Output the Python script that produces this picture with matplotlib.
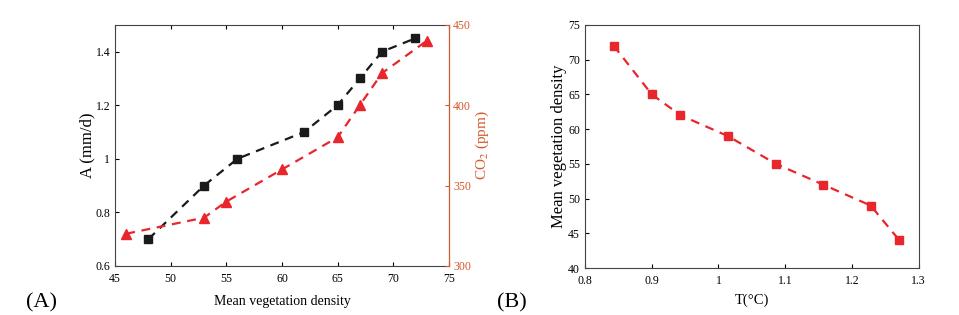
import matplotlib
matplotlib.use("Agg")
import matplotlib.pyplot as plt

plt.rcParams['font.family'] = ['Liberation Serif', 'DejaVu Serif']
plt.rcParams['mathtext.fontset'] = 'stix'

# panel A data
veg_a = [48, 53, 56, 62, 65, 67, 69, 72]
a_vals = [0.70, 0.90, 1.00, 1.10, 1.20, 1.30, 1.40, 1.45]
veg_co2 = [46, 53, 55, 60, 65, 67, 69, 73]
co2_vals = [320, 330, 340, 360, 380, 400, 420, 440]

# panel B data
temp = [0.843, 0.900, 0.943, 1.014, 1.086, 1.157, 1.228, 1.271]
veg_b = [72, 65, 62, 59, 55, 52, 49, 44]

red = '#e8262b'
orange = '#d4582a'
spine_c = '#444444'

fig = plt.figure(figsize=(9.59, 3.15), dpi=100)

# ---- panel A
ax1 = fig.add_axes([0.120, 0.156, 0.348, 0.765])
ax1.plot(veg_a, a_vals, ls='--', color='#1a1a1a', lw=1.6, dashes=(4, 3),
         marker='s', ms=5.5, zorder=3)
ax1.set_xlim(45, 75)
ax1.set_ylim(0.6, 1.5)
ax1.set_xticks([45, 50, 55, 60, 65, 70, 75])
ax1.set_yticks([0.6, 0.8, 1.0, 1.2, 1.4])
ax1.set_yticklabels(['0.6', '0.8', '1', '1.2', '1.4'])
ax1.set_xlabel('Mean vegetation density', fontsize=10, labelpad=7)
ax1.set_ylabel('A (mm/d)', fontsize=12, labelpad=0)
ax1.tick_params(direction='in', length=3, labelsize=8.5, top=True)
ax1.tick_params(axis='x', pad=5)
for s in ax1.spines.values():
    s.set_color(spine_c)

ax2 = ax1.twinx()
ax2.plot(veg_co2, co2_vals, ls='--', color=red, lw=1.6, dashes=(4, 3),
         marker='^', ms=7.5, zorder=3)
ax2.set_ylim(300, 450)
ax2.set_yticks([300, 350, 400, 450])
ax2.set_ylabel('CO$_2$ (ppm)', fontsize=11, color=orange, labelpad=2)
ax2.tick_params(direction='in', length=3, labelsize=8.5, colors=orange, pad=3)
ax2.spines['right'].set_color(orange)
ax2.spines['left'].set_visible(False)
ax2.spines['top'].set_visible(False)
ax2.spines['bottom'].set_visible(False)

# ---- panel B
ax3 = fig.add_axes([0.610, 0.149, 0.348, 0.772])
ax3.plot(temp, veg_b, ls='--', color=red, lw=1.6, dashes=(4, 3),
         marker='s', ms=5.5, zorder=3)
ax3.set_xlim(0.8, 1.3)
ax3.set_ylim(40, 75)
ax3.set_xticks([0.8, 0.9, 1.0, 1.1, 1.2, 1.3])
ax3.set_xticklabels(['0.8', '0.9', '1', '1.1', '1.2', '1.3'])
ax3.set_yticks([40, 45, 50, 55, 60, 65, 70, 75])
ax3.set_xlabel('T(\u00b0C)', fontsize=10.5, labelpad=5)
ax3.set_ylabel('Mean vegetation density', fontsize=12, labelpad=1)
ax3.tick_params(direction='in', length=3, labelsize=8.5)
ax3.tick_params(axis='x', pad=5)
for s in ax3.spines.values():
    s.set_color(spine_c)

fig.text(0.027, 0.04, '(A)', fontsize=16, va='center', ha='left')
fig.text(0.518, 0.04, '(B)', fontsize=16, va='center', ha='left')

fig.savefig('out.png', dpi=100)
